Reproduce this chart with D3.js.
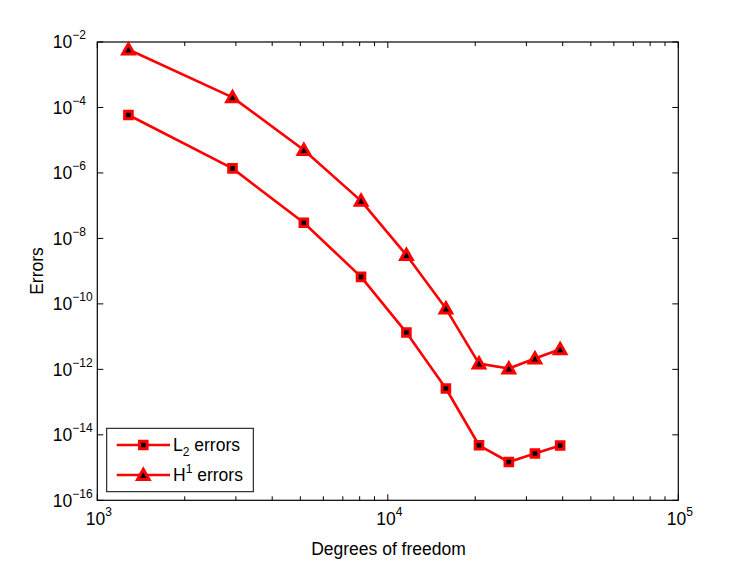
<!DOCTYPE html>
<html><head><meta charset="utf-8">
<script src="https://cdn.jsdelivr.net/npm/d3@7"></script>
<style>
body{margin:0;background:#fff;}
text{font-family:"Liberation Sans",Arial,Helvetica,sans-serif;fill:#000;}
</style></head>
<body><svg id="c" width="749" height="564"></svg>
<script>
const dof = [1280, 2920, 5140, 8090, 11590, 15850, 20600, 26100, 32100, 39200];
const l2Errors = [5.9e-5, 1.38e-6, 3.0e-8, 6.7e-10, 1.33e-11, 2.6e-13, 4.8e-15, 1.48e-15, 2.7e-15, 4.7e-15];
const h1Errors = [5.9e-3, 2.04e-4, 5.0e-6, 1.4e-7, 3.1e-9, 7.2e-11, 1.5e-12, 1.06e-12, 2.14e-12, 4.1e-12];
const xTickExps = [3, 4, 5];
const yTickExps = [-2, -4, -6, -8, -10, -12, -14, -16];
const seriesNames = ["L2", "H1"];

const FS = 17.5, SS = 12;
const svg = d3.select("#c");
const L = 97.3, R = 678.3, T = 42, B = 500.3;
const x = d3.scaleLog().domain([1e3, 1e5]).range([L, R]);
const y = d3.scaleLog().domain([1e-16, 1e-2]).range([B, T]);
const red = "#ff0000";

// box
svg.append("rect").attr("x", L).attr("y", T).attr("width", R - L).attr("height", B - T)
  .attr("fill", "none").attr("stroke", "#000").attr("stroke-width", 1.2);

// x ticks (major + minor)
const g = svg.append("g").attr("stroke", "#000").attr("stroke-width", 1);
const xMinor = [];
for (let e = 3; e < 5; e++) for (let m = 2; m <= 9; m++) xMinor.push(m * Math.pow(10, e));
xMinor.forEach(v => {
  const px = x(v);
  g.append("line").attr("x1", px).attr("x2", px).attr("y1", B).attr("y2", B - 4);
  g.append("line").attr("x1", px).attr("x2", px).attr("y1", T).attr("y2", T + 4);
});
xTickExps.forEach(e => {
  const px = x(Math.pow(10, e));
  g.append("line").attr("x1", px).attr("x2", px).attr("y1", B).attr("y2", B - 6);
  g.append("line").attr("x1", px).attr("x2", px).attr("y1", T).attr("y2", T + 6);
  const t = svg.append("text").attr("x", px - 11.5).attr("y", B + 25).attr("font-size", FS);
  t.append("tspan").text("10");
  t.append("tspan").attr("dy", -9).attr("font-size", SS).text(e);
});
yTickExps.forEach(e => {
  const py = y(Math.pow(10, e));
  g.append("line").attr("x1", L).attr("x2", L + 6).attr("y1", py).attr("y2", py);
  g.append("line").attr("x1", R).attr("x2", R - 6).attr("y1", py).attr("y2", py);
  const t = svg.append("text").attr("x", L - 44.5).attr("y", py + 6.3).attr("font-size", FS);
  t.append("tspan").text("10");
  t.append("tspan").attr("dy", -9).attr("font-size", SS).text("\u2212" + (-e));
});

// axis labels
svg.append("text").attr("x", 388.5).attr("y", 555).attr("text-anchor", "middle")
  .attr("font-size", FS).text("Degrees of freedom");
svg.append("text").attr("transform", "translate(43,271) rotate(-90)").attr("text-anchor", "middle")
  .attr("font-size", FS).text("Errors");

const sq = "M-3.8,-3.8H3.8V3.8H-3.8Z";
const tri = "M0,-5.8L5.8,4.4L-5.8,4.4Z";
const line = d3.line().x(d => x(d[0])).y(d => y(d[1]));

function drawSeries(vals, shape) {
  const pts = dof.map((d, i) => [d, vals[i]]);
  svg.append("path").datum(pts).attr("d", line).attr("fill", "none")
    .attr("stroke", red).attr("stroke-width", 2.6).attr("stroke-linejoin", "round");
  svg.selectAll(null).data(pts).enter().append("path")
    .attr("transform", d => `translate(${x(d[0])},${y(d[1])})`)
    .attr("d", shape).attr("fill", "#000").attr("stroke", red).attr("stroke-width", 3)
    .attr("stroke-linejoin", "miter");
}
drawSeries(l2Errors, sq);
drawSeries(h1Errors, tri);

// legend
const lg = svg.append("g");
lg.append("rect").attr("x", 106.7).attr("y", 428.3).attr("width", 146.6).attr("height", 63.4)
  .attr("fill", "#fff").attr("stroke", "#000").attr("stroke-width", 1);
[[445, sq, "L", "2", "sub"], [475, tri, "H", "1", "sup"]].forEach(([ly, shape, a, b, kind]) => {
  lg.append("line").attr("x1", 116.7).attr("x2", 170).attr("y1", ly).attr("y2", ly)
    .attr("stroke", red).attr("stroke-width", 2.6);
  lg.append("path").attr("transform", `translate(143.3,${ly})`).attr("d", shape)
    .attr("fill", "#000").attr("stroke", red).attr("stroke-width", 3);
  const t = lg.append("text").attr("x", 173).attr("y", ly + 6).attr("font-size", FS);
  t.append("tspan").text(a);
  t.append("tspan").attr("dy", kind === "sub" ? 5 : -8).attr("font-size", SS).text(b);
  t.append("tspan").attr("dy", kind === "sub" ? -5 : 8).text(" errors");
});
</script></body></html>
